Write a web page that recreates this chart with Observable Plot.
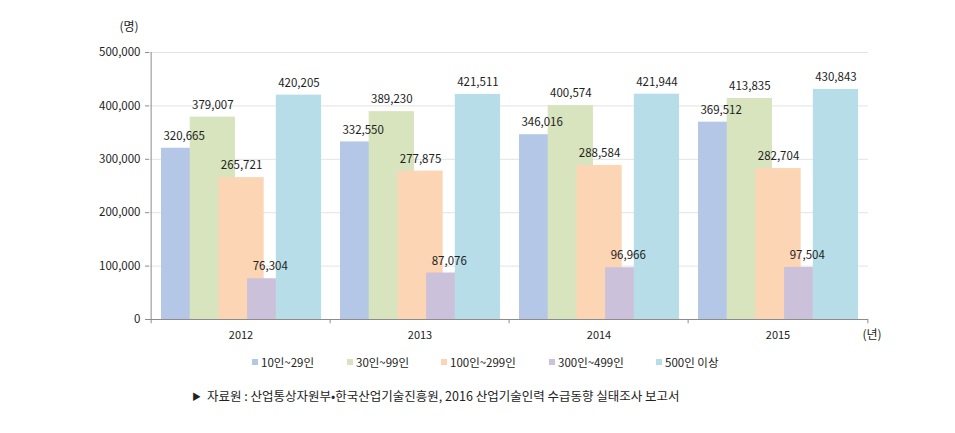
<!DOCTYPE html>
<html>
<head>
<meta charset="utf-8">
<script src="https://cdn.jsdelivr.net/npm/d3@7"></script>
<script src="https://cdn.jsdelivr.net/npm/@observablehq/plot@0.6"></script>
<style>
  body { margin: 0; background: #fff; font-family: "Noto Sans CJK KR", "Noto Sans", sans-serif; }
  #wrap { width: 955px; }
  .legend { display: flex; gap: 0; margin-left: 252px; margin-top: 5px; font-size: 11.5px; color: #222; height: 18px; align-items: center; }
  .legend span.item { display: inline-flex; align-items: center; }
  .legend span.sw { width: 6px; height: 6px; display: inline-block; margin-right: 3px; }
  .caption { margin-left: 192px; margin-top: 15px; font-size: 12.5px; color: #222; }
  .caption .tri { font-size: 9px; margin-right: 6px; vertical-align: 1px; }
</style>
</head>
<body>
<div id="wrap"></div>
<script>
const years = ["2012", "2013", "2014", "2015"];
const seriesNames = ["10인~29인", "30인~99인", "100인~299인", "300인~499인", "500인 이상"];
const s10_29 = [320665, 332550, 346016, 369512];
const s30_99 = [379007, 389230, 400574, 413835];
const s100_299 = [265721, 277875, 288584, 282704];
const s300_499 = [76304, 87076, 96966, 97504];
const s500 = [420205, 421511, 421944, 430843];
const seriesValues = [s10_29, s30_99, s100_299, s300_499, s500];
const colors = ["#b4c7e7", "#d7e4bd", "#fcd5b5", "#ccc1da", "#b7dee8"];
const yTicks = [0, 100000, 200000, 300000, 400000, 500000];

const W = 955, H = 348;
const mL = 149, mR = 87, mT = 52, mB = 29;
const bw = (W - mL - mR) / years.length; // band width in px
const barW = 46, step = 28.7, pad0 = 10;

const marks = [];
marks.push(Plot.gridY(yTicks, {stroke: "#e3e3e3", strokeOpacity: 1}));
seriesValues.forEach((vals, i) => {
  const data = years.map((y, j) => ({year: y, value: vals[j]}));
  const left = pad0 + step * i;
  const right = bw - left - barW;
  marks.push(Plot.barY(data, {x: "year", y: "value", fill: colors[i], insetLeft: left, insetRight: right}));
});
seriesValues.forEach((vals, i) => {
  const data = years.map((y, j) => ({year: y, value: vals[j]}));
  const off = pad0 + step * i + barW / 2 - bw / 2;
  marks.push(Plot.text(data, {x: "year", y: "value", text: d => d3.format(",")(d.value), dx: off, dy: -12, fontSize: 11.5, fill: "#222"}));
});
// axes lines
marks.push(Plot.ruleY([0], {stroke: "#8c8c8c"}));
marks.push(Plot.ruleX([0], {x: () => years[0], dx: -bw / 2, y1: 0, y2: 500000, stroke: "#8c8c8c"}));
// boundary ticks at bottom
marks.push(Plot.ruleX(years, {x: d => d, dx: -bw / 2, y1: 0, y2: -8000, stroke: "#8c8c8c"}));
marks.push(Plot.ruleX([years[years.length - 1]], {x: d => d, dx: bw / 2, y1: 0, y2: -8000, stroke: "#8c8c8c"}));
// y ticks
marks.push(Plot.axisY(yTicks, {tickFormat: d3.format(","), tickSize: 4, tickPadding: 5, stroke: "#8c8c8c", fontSize: 11.5, label: null, color: "#222"}));
marks.push(Plot.axisX({tickSize: 0, tickPadding: 12, fontSize: 11, label: null}));
// unit labels
marks.push(Plot.text(["(명)"], {frameAnchor: "top-left", dx: -30, dy: -30, fontSize: 12, fill: "#222"}));
marks.push(Plot.text(["(년)"], {frameAnchor: "bottom-right", dx: -6, dy: 19, fontSize: 12, fill: "#222", textAnchor: "start"}));

const chart = Plot.plot({
  width: W, height: H,
  marginLeft: mL, marginRight: mR, marginTop: mT, marginBottom: mB,
  style: {fontFamily: "'Noto Sans CJK KR', sans-serif", fontSize: "11.5px", color: "#222", background: "#fff"},
  x: {type: "band", domain: years, padding: 0, axis: null},
  y: {domain: [0, 500000], axis: null},
  marks
});
const wrap = document.getElementById("wrap");
wrap.appendChild(chart);

const legend = document.createElement("div");
legend.className = "legend";
const gaps = [95, 94, 108, 107, 0];
seriesNames.forEach((n, i) => {
  const it = document.createElement("span");
  it.className = "item";
  it.style.width = gaps[i] ? gaps[i] + "px" : "auto";
  const sw = document.createElement("span");
  sw.className = "sw";
  sw.style.background = colors[i];
  it.appendChild(sw);
  it.appendChild(document.createTextNode(n));
  legend.appendChild(it);
});
wrap.appendChild(legend);

const cap = document.createElement("div");
cap.className = "caption";
const tri = document.createElement("span");
tri.className = "tri";
tri.textContent = "▶";
cap.appendChild(tri);
cap.appendChild(document.createTextNode("자료원 : 산업통상자원부•한국산업기술진흥원, 2016 산업기술인력 수급동향 실태조사 보고서"));
wrap.appendChild(cap);
</script>
</body>
</html>
